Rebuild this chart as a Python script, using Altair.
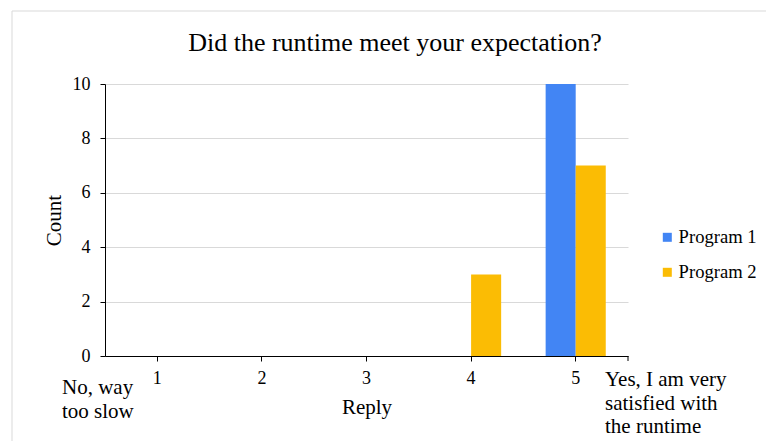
import altair as alt
import pandas as pd

replies = ["1", "2", "3", "4", "5"]
programs = ["Program 1", "Program 2"]
program1_counts = [0, 0, 0, 0, 10]
program2_counts = [0, 0, 0, 3, 7]
colors = ["#4285F4", "#FBBC04"]
left_note = ["No, way", "too slow"]
right_note = ["Yes, I am very", "satisfied with", "the runtime"]

rows = []
for r, a, b in zip(replies, program1_counts, program2_counts):
    rows.append({"Reply": r, "Program": programs[0], "Count": a})
    rows.append({"Reply": r, "Program": programs[1], "Count": b})
df = pd.DataFrame(rows)

FONT = "Liberation Serif"
W, H = 523, 272

bars = alt.Chart(df).mark_bar().encode(
    x=alt.X("Reply:N", sort=replies,
            scale=alt.Scale(paddingInner=0, paddingOuter=0),
            axis=alt.Axis(title="Reply", labelAngle=0, labelFontSize=18,
                          labelFont=FONT, titleFont=FONT,
                          labelPadding=8, tickSize=5, tickColor="black",
                          domainColor="black", titleFontSize=21,
                          titleFontWeight="normal", titlePadding=9,
                          labelColor="black", titleColor="black", grid=False)),
    xOffset=alt.XOffset("Program:N", sort=programs,
                        scale=alt.Scale(paddingInner=0, paddingOuter=0.74)),
    y=alt.Y("Count:Q", scale=alt.Scale(domain=[0, 10]),
            axis=alt.Axis(title="Count", values=[0, 2, 4, 6, 8, 10],
                          labelFont=FONT, titleFont=FONT,
                          labelFontSize=18, labelPadding=10, tickSize=5,
                          tickColor="black", domainColor="black",
                          gridColor="#d9d9d9", titleFontSize=21,
                          titleFontWeight="normal", titlePadding=8,
                          labelColor="black", titleColor="black")),
    color=alt.Color("Program:N", sort=programs,
                    scale=alt.Scale(domain=programs, range=colors),
                    legend=alt.Legend(title=None, orient="none", legendX=553,
                                      legendY=144, symbolType="square",
                                      symbolSize=81, symbolStrokeWidth=0,
                                      labelFont=FONT,
                                      labelFontSize=18.6, labelColor="black",
                                      rowPadding=16, labelOffset=2, padding=0)),
)

end_tick = alt.Chart(pd.DataFrame({"v": [0]})).mark_rule(color="black").encode(
    x=alt.value(W), y=alt.value(H), y2=alt.value(H + 5))

border = alt.Chart(pd.DataFrame({"v": [0]})).mark_rect(
    fill=None, stroke="#d9d9d9", strokeWidth=1).encode(
    x=alt.value(-93), y=alt.value(-73), x2=alt.value(W + 200), y2=alt.value(H + 200))

left_df = pd.DataFrame({"t": left_note, "i": list(range(len(left_note)))})
right_df = pd.DataFrame({"t": right_note, "i": list(range(len(right_note)))})

left_text = alt.Chart(left_df).mark_text(
    align="left", baseline="alphabetic", fontSize=21, font=FONT, color="black"
).transform_calculate(py="310 + 24 * datum.i").encode(
    x=alt.value(-43), y=alt.Y("py:Q", scale=None), text="t:N")

right_text = alt.Chart(right_df).mark_text(
    align="left", baseline="alphabetic", fontSize=21, font=FONT, color="black"
).transform_calculate(py="302 + 23.5 * datum.i").encode(
    x=alt.value(500), y=alt.Y("py:Q", scale=None), text="t:N")

chart = alt.layer(border, bars, end_tick, left_text, right_text).properties(
    width=W, height=H,
    title=alt.TitleParams("Did the runtime meet your expectation?", fontSize=26,
                          font=FONT, fontWeight="normal", color="black",
                          anchor="middle", frame="group", dx=28.5, offset=-66,
                          baseline="alphabetic"),
    padding={"left": 105, "top": 84, "right": 138, "bottom": 85},
    autosize=alt.AutoSizeParams(type="none"),
).configure(font=FONT).configure_view(stroke=None)

chart.save("out.html", embed_options={"renderer": "svg", "actions": False})
